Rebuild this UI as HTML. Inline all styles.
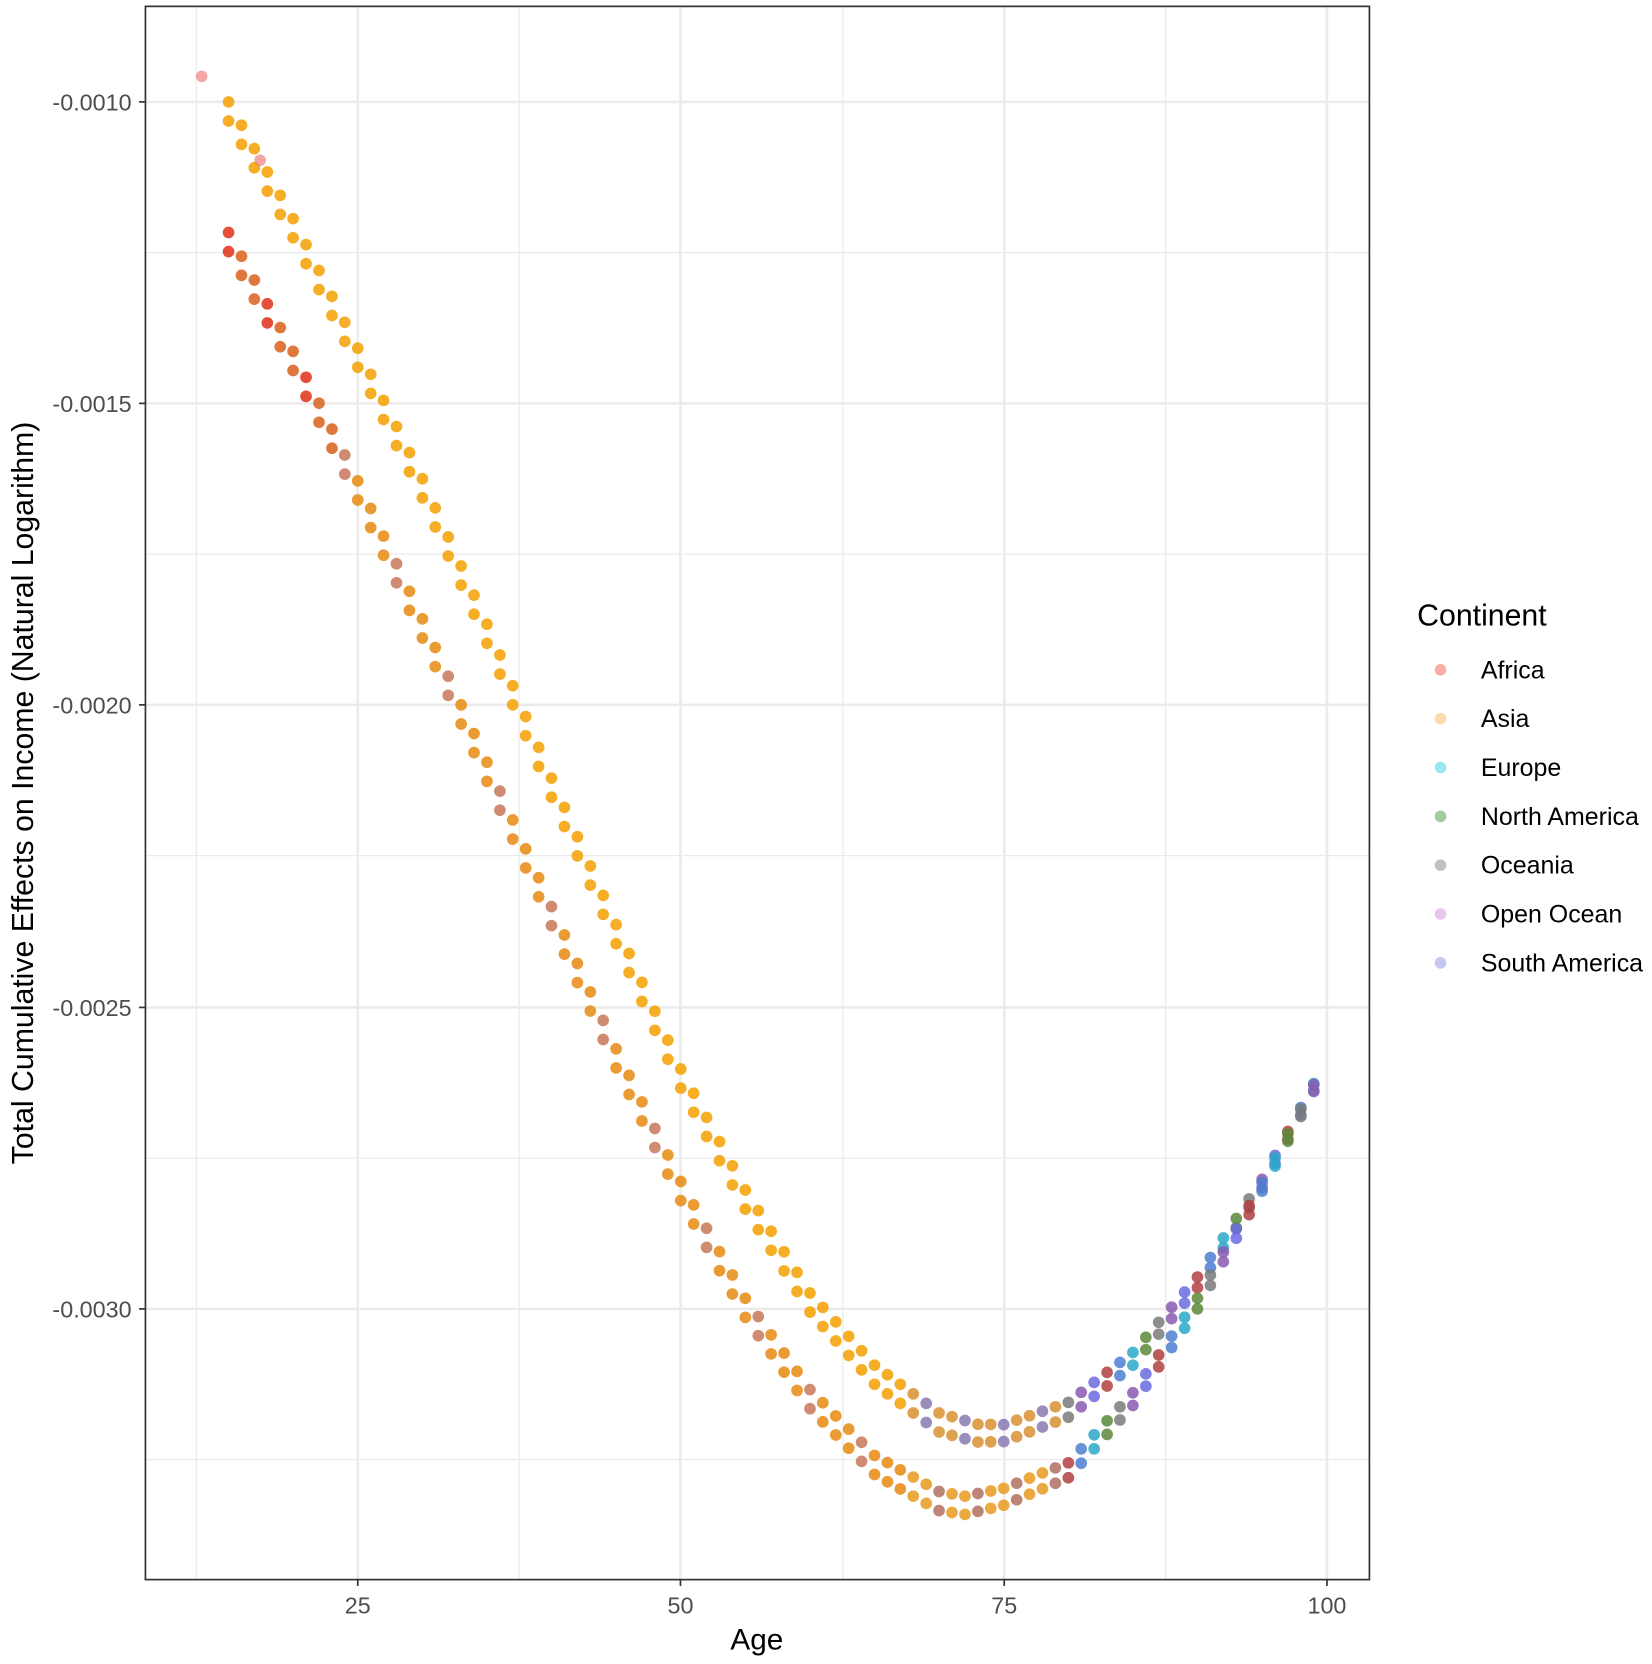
<!DOCTYPE html>
<html><head><meta charset="utf-8"><style>
html,body{margin:0;padding:0;background:#fff;}
svg{display:block;font-family:"Liberation Sans",Arial,sans-serif;}
</style></head><body>
<svg id="s" width="1652" height="1664" viewBox="0 0 1556.2 1567.5" preserveAspectRatio="none" xmlns="http://www.w3.org/2000/svg">
<rect width="1560" height="1570" fill="#fff"/>
<g stroke="#ebebeb" stroke-width="1.2">
<line x1="137" x2="1290" y1="238" y2="238"/><line x1="137" x2="1290" y1="522" y2="522"/>
<line x1="137" x2="1290" y1="806" y2="806"/><line x1="137" x2="1290" y1="1091" y2="1091"/>
<line x1="137" x2="1290" y1="1375" y2="1375"/>
<line x1="185" x2="185" y1="6" y2="1488"/><line x1="489" x2="489" y1="6" y2="1488"/>
<line x1="794" x2="794" y1="6" y2="1488"/><line x1="1098" x2="1098" y1="6" y2="1488"/>
</g>
<g stroke="#ebebeb" stroke-width="2.4">
<line x1="137" x2="1290" y1="96" y2="96"/><line x1="137" x2="1290" y1="380" y2="380"/>
<line x1="137" x2="1290" y1="664" y2="664"/><line x1="137" x2="1290" y1="949" y2="949"/>
<line x1="137" x2="1290" y1="1233" y2="1233"/>
<line x1="337" x2="337" y1="6" y2="1488"/><line x1="641" x2="641" y1="6" y2="1488"/>
<line x1="946" x2="946" y1="6" y2="1488"/><line x1="1250" x2="1250" y1="6" y2="1488"/>
</g>
<g id="pts"></g>
<rect x="137" y="6" width="1153" height="1482" fill="none" stroke="#333" stroke-width="1.6"/>
<g stroke="#333" stroke-width="1.6">
<line x1="131" x2="137" y1="96" y2="96"/><line x1="131" x2="137" y1="380" y2="380"/>
<line x1="131" x2="137" y1="664" y2="664"/><line x1="131" x2="137" y1="949" y2="949"/>
<line x1="131" x2="137" y1="1233" y2="1233"/>
<line x1="337" x2="337" y1="1488" y2="1494"/><line x1="641" x2="641" y1="1488" y2="1494"/>
<line x1="946" x2="946" y1="1488" y2="1494"/><line x1="1250" x2="1250" y1="1488" y2="1494"/>
</g>
<g fill="#4d4d4d" font-size="22" text-anchor="end">
<text x="124" y="104">-0.0010</text><text x="124" y="388">-0.0015</text>
<text x="124" y="672">-0.0020</text><text x="124" y="957">-0.0025</text>
<text x="124" y="1241">-0.0030</text>
</g>
<g fill="#4d4d4d" font-size="22" text-anchor="middle">
<text x="337" y="1520">25</text><text x="641" y="1520">50</text>
<text x="946" y="1520">75</text><text x="1250" y="1520">100</text>
</g>
<text x="713" y="1554" font-size="28" text-anchor="middle" fill="#000">Age</text>
<text transform="translate(31,747) rotate(-90)" font-size="28.5" text-anchor="middle" fill="#000">Total Cumulative Effects on Income (Natural Logarithm)</text>
<text x="1335" y="589" font-size="28.5" fill="#000">Continent</text>
<g font-size="23.5" fill="#000">
<circle cx="1357" cy="631" r="5.5" fill="#F8766D" opacity="0.6"/><text x="1395" y="639">Africa</text>
<circle cx="1357" cy="677" r="5.5" fill="#F5B040" opacity="0.45"/><text x="1395" y="685">Asia</text>
<circle cx="1357" cy="723" r="5.5" fill="#20C8E0" opacity="0.45"/><text x="1395" y="731">Europe</text>
<circle cx="1357" cy="769" r="5.5" fill="#2E8B2E" opacity="0.45"/><text x="1395" y="777">North America</text>
<circle cx="1357" cy="815" r="5.5" fill="#777" opacity="0.45"/><text x="1395" y="823">Oceania</text>
<circle cx="1357" cy="861" r="5.5" fill="#D080D8" opacity="0.45"/><text x="1395" y="869">Open Ocean</text>
<circle cx="1357" cy="907" r="5.5" fill="#8080E0" opacity="0.45"/><text x="1395" y="915">South America</text>
</g>
</svg>
<script>
(function(){
var up=[[15,105],[20,215],[25,337],[30,460],[35,597],[40,742],[45,880],[50,1016],[55,1130],[60,1227],[65,1295],[70,1340],[73,1350],[75,1350],[80,1328],[85,1280],[90,1208],[95,1115],[99,1024]];
var lo=[[15,228],[20,340],[25,462],[30,592],[35,727],[40,863],[45,997],[50,1122],[55,1232],[60,1318],[65,1380],[70,1414],[72,1418],[75,1410],[80,1385],[85,1318],[90,1228],[95,1118],[99,1025]];
function interp(a,x){for(var i=0;i<a.length-1;i++){if(x>=a[i][0]&&x<=a[i+1][0]){var t=(x-a[i][0])/(a[i+1][0]-a[i][0]);return a[i][1]+t*(a[i+1][1]-a[i][1]);}}return a[a.length-1][1];}
var g=document.getElementById('pts'),h='';
function X(age){return 337+(age-25)*12.17;}
var right=['#4C7FD0','#2AA8C8','#5A8A3A','#7A7A7A','#8A5AB0','#6A6AE0','#B04040'];
function dot(x,y,c,o){h+='<circle cx="'+x.toFixed(1)+'" cy="'+y.toFixed(1)+'" r="5.5" fill="'+c+'" opacity="'+o+'"/>';}
for(var a=15;a<=99;a++){
 var x=X(a),off=a<70?9:Math.max(3,9-(a-70)*0.2);
 var cu,cl;
 if(a<68){cu='#F5A000';cl=a<24?(a%3==0?'#E03018':'#D8601A'):(a%4==0?'#C8785A':'#E88A10');}
 else {cu=right[a%7];cl=right[(a+3)%7];if(a<80){cu=(a%3==0)?'#8A7AB0':'#D89030';cl=(a%3==1)?'#B07060':'#E89A20';}}
 dot(x,interp(up,a)-off,cu,0.85);dot(x,interp(up,a)+off,cu,0.85);
 dot(x,interp(lo,a)-off,cl,0.85);dot(x,interp(lo,a)+off,cl,0.85);
}
dot(190,72,'#F08080',0.7);dot(245,151,'#F08080',0.7);
g.innerHTML=h;
})();
</script>
</body></html>
